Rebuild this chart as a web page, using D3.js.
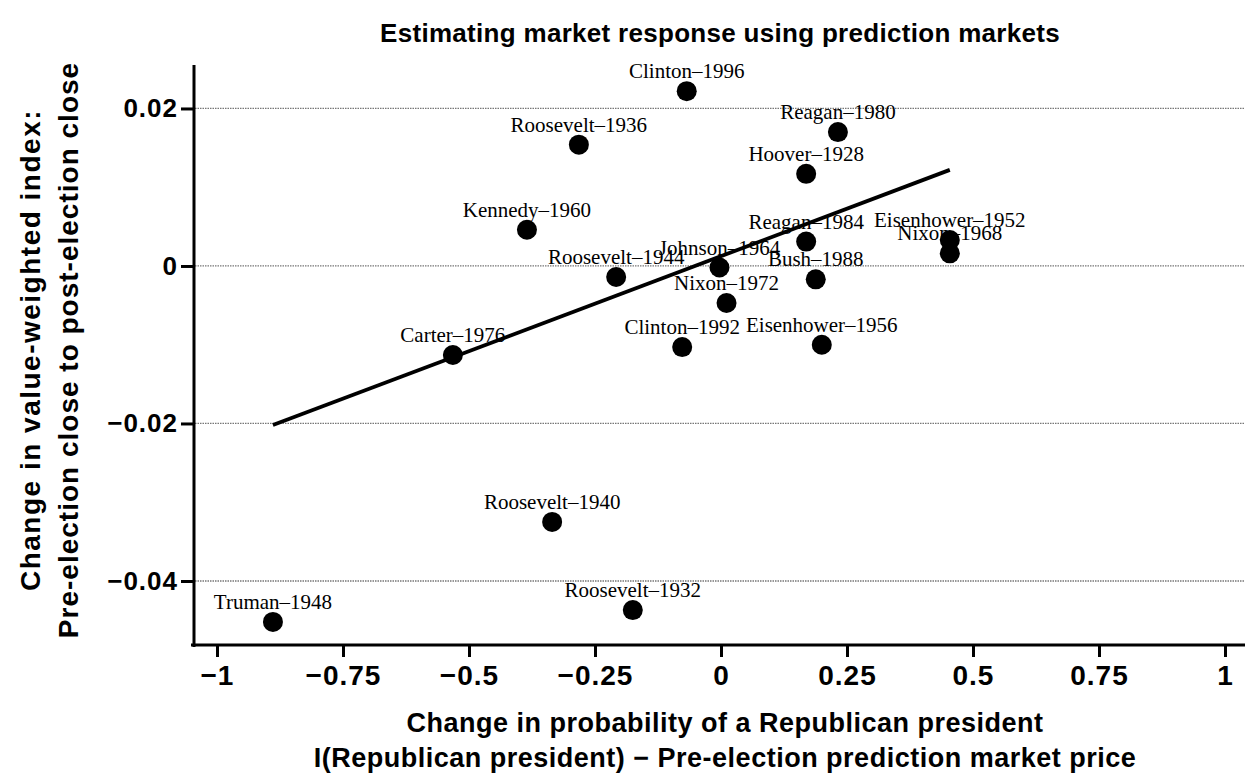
<!DOCTYPE html>
<html>
<head>
<meta charset="utf-8">
<script src="https://cdn.jsdelivr.net/npm/d3@7"></script>
<style>
  body { margin: 0; background: #fff; }
</style>
</head>
<body>
<div class="canvas"></div>
<script>
// election labels and their values
const elections = ["Clinton–1996", "Reagan–1980", "Roosevelt–1936", "Hoover–1928",
  "Kennedy–1960", "Reagan–1984", "Eisenhower–1952", "Nixon–1968", "Roosevelt–1944",
  "Johnson–1964", "Bush–1988", "Nixon–1972", "Carter–1976", "Clinton–1992",
  "Eisenhower–1956", "Roosevelt–1940", "Roosevelt–1932", "Truman–1948"];
const probChange = [-0.068, 0.232, -0.282, 0.169, -0.385, 0.169, 0.454, 0.454, -0.208,
  -0.003, 0.188, 0.011, -0.532, -0.077, 0.200, -0.335, -0.175, -0.889];
const indexChange = [0.0222, 0.0170, 0.0154, 0.0117, 0.0046, 0.0031, 0.0033, 0.0016, -0.0014,
  -0.0002, -0.0017, -0.0047, -0.0113, -0.0103, -0.0100, -0.0325, -0.0437, -0.0452];

// fitted line endpoints
const fitX = [-0.889, 0.454];
const fitY = [-0.0202, 0.0122];

const xTicks = [-1, -0.75, -0.5, -0.25, 0, 0.25, 0.5, 0.75, 1];
const yTicks = [0.02, 0, -0.02, -0.04];

const width = 1257, height = 778;
const svg = d3.select(".canvas")
  .append("svg")
  .attr("width", width)
  .attr("height", height)
  .style("display", "block");

const x = d3.scaleLinear().domain([-1.0476, 1.0397]).range([193, 1245]);
const y = d3.scaleLinear().domain([-0.04813, 0.02552]).range([645, 65]);

const sans = "'Liberation Sans', Arial, Helvetica, sans-serif";
const serif = "'Liberation Serif', 'Times New Roman', serif";

// gridlines
svg.append("g")
  .selectAll("line")
  .data(yTicks)
  .join("line")
  .attr("x1", 195)
  .attr("x2", 1245)
  .attr("y1", (d) => y(d))
  .attr("y2", (d) => y(d))
  .attr("stroke", "#777")
  .attr("stroke-width", 1.3)
  .attr("stroke-dasharray", "1.5,1");

// axes
const minus = (s) => s.replace("-", "\u2212");
const yAxis = svg.append("g")
  .attr("transform", "translate(194,0)")
  .call(d3.axisLeft(y).tickValues(yTicks).tickSize(13).tickPadding(3)
    .tickFormat((d) => (d === 0 ? "0" : minus(d3.format(".2f")(d)))));
const xAxis = svg.append("g")
  .attr("transform", "translate(0,645)")
  .call(d3.axisBottom(x).tickValues(xTicks).tickSize(12).tickPadding(8)
    .tickFormat((d) => minus(String(d))));

[yAxis, xAxis].forEach((ax) => {
  ax.select(".domain").attr("stroke", "#000").attr("stroke-width", 3);
  ax.selectAll(".tick line").attr("stroke", "#000").attr("stroke-width", 3);
  ax.selectAll(".tick text")
    .attr("fill", "#000")
    .style("font-family", sans)
    .style("font-weight", "bold");
});
yAxis.selectAll(".tick text").style("font-size", "26px").style("letter-spacing", "1px");
xAxis.selectAll(".tick text").style("font-size", "28px").style("letter-spacing", "1px");
// extend the axis lines to the corners
yAxis.select(".domain").attr("d", "M0,65V647");
xAxis.select(".domain").attr("d", "M191,0H1245");

// fit line
svg.append("line")
  .attr("x1", x(fitX[0]))
  .attr("y1", y(fitY[0]))
  .attr("x2", x(fitX[1]))
  .attr("y2", y(fitY[1]))
  .attr("stroke", "#000")
  .attr("stroke-width", 3.8);

// points
const pts = elections.map((name, i) => ({ name, px: probChange[i], py: indexChange[i] }));
svg.append("g")
  .selectAll("circle")
  .data(pts)
  .join("circle")
  .attr("cx", (d) => x(d.px))
  .attr("cy", (d) => y(d.py))
  .attr("r", 10)
  .attr("fill", "#000");

svg.append("g")
  .selectAll("text")
  .data(pts)
  .join("text")
  .attr("x", (d) => x(d.px))
  .attr("y", (d) => y(d.py) - 13)
  .attr("text-anchor", "middle")
  .attr("fill", "#000")
  .style("font-family", serif)
  .style("font-size", "21px")
  .text((d) => d.name);

// titles
const title = (txt, size, spacing) =>
  svg.append("text")
    .attr("text-anchor", "middle")
    .style("font-family", sans)
    .style("font-weight", "bold")
    .style("font-size", size + "px")
    .style("letter-spacing", spacing + "px")
    .text(txt);

title("Estimating market response using prediction markets", 26, 0.3)
  .attr("x", 720).attr("y", 42);
title("Change in probability of a Republican president", 27, 0.5)
  .attr("x", 725).attr("y", 732);
title("I(Republican president) \u2212 Pre-election prediction market price", 27, 0.5)
  .attr("x", 725).attr("y", 767);
title("Change in value-weighted index:", 28, 1.5)
  .attr("transform", "translate(40,350) rotate(-90)");
title("Pre-election close to post-election close", 28, 1)
  .attr("transform", "translate(78,350) rotate(-90)");
</script>
</body>
</html>
